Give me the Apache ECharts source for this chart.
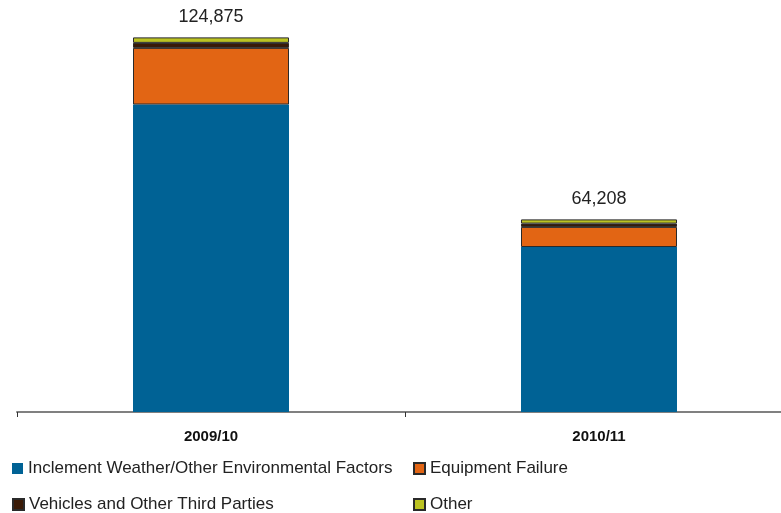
<!DOCTYPE html>
<html>
<head>
<meta charset="utf-8">
<script src="https://cdn.jsdelivr.net/npm/echarts@6/dist/echarts.min.js"></script>
<style>
  html, body { margin: 0; padding: 0; background: #fff; }
  #chart { width: 781px; height: 513px; }
</style>
</head>
<body>
<div id="chart"></div>
<script>
var categories = ['2009/10', '2010/11']
var weather = [102500, 55000]
var equipment = [18880, 6700]
var vehicles = [1665, 1100]
var other = [1830, 1408]
var totals = [124875, 64208]

var names = [
  'Inclement Weather/Other Environmental Factors',
  'Equipment Failure',
  'Vehicles and Other Third Parties',
  'Other'
]

var chart = echarts.init(document.getElementById('chart'))

function seg(name, data, color, border) {
  return {
    name: name,
    type: 'bar',
    stack: 'all',
    barWidth: 156,
    data: data,
    itemStyle: {
      color: color,
      borderColor: border ? '#2a2a2a' : color,
      borderWidth: border ? 1 : 0
    }
  }
}

// one legend per item so the 2x2 layout is fixed
function leg(name, left, top) {
  return {
    left: left,
    top: top,
    padding: 0,
    icon: 'rect',
    itemWidth: 11,
    itemHeight: 11,
    itemGap: 0,
    textStyle: { fontSize: 17, color: '#222', fontFamily: 'Liberation Sans', padding: [0, 0, 0, 0] },
    data: [name]
  }
}

var lastSeg = seg(names[3], other, '#bcc322', true)
lastSeg.label = {
  show: true,
  position: 'top',
  distance: 11,
  color: '#222',
  fontFamily: 'Liberation Sans',
  fontSize: 18,
  formatter: function (p) {
    return totals[p.dataIndex].toLocaleString('en-US')
  }
}

chart.setOption({
  animation: false,
  textStyle: { fontFamily: 'Liberation Sans' },
  grid: { left: 17, right: -12, top: 22, bottom: 101, outerBoundsMode: 'none' },
  legend: [
    leg(names[0], 12, 460),
    leg(names[1], 413, 460),
    leg(names[2], 12, 496),
    leg(names[3], 413, 496)
  ],
  xAxis: {
    type: 'category',
    data: categories,
    axisLine: { lineStyle: { color: '#808080', width: 2 } },
    axisTick: { show: true, length: 5, lineStyle: { color: '#333' } },
    axisLabel: {
      margin: 17,
      fontWeight: 'bold',
      fontSize: 15,
      color: '#111',
      fontFamily: 'Liberation Sans'
    }
  },
  yAxis: {
    type: 'value',
    min: 0,
    max: 130000,
    show: false,
    splitLine: { show: false }
  },
  series: [
    seg(names[0], weather, '#006295', false),
    seg(names[1], equipment, '#e26514', true),
    seg(names[2], vehicles, '#3a1a06', true),
    lastSeg
  ]
})
</script>
</body>
</html>
